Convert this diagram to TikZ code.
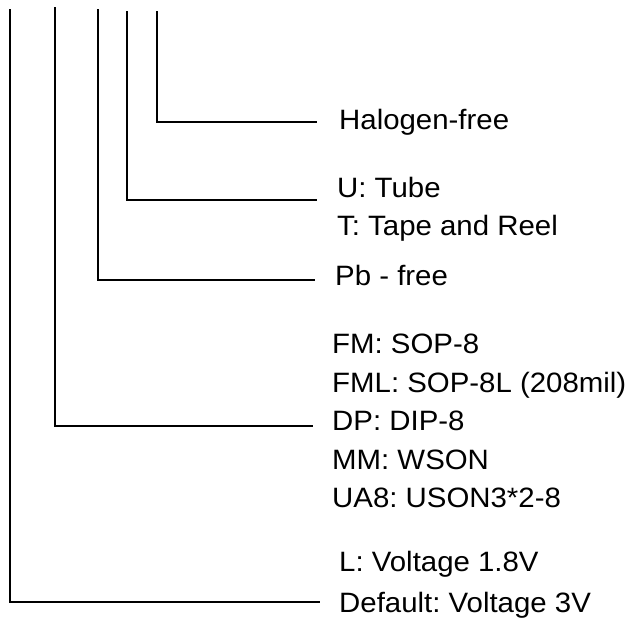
\documentclass[tikz,border=0pt]{standalone}
\usepackage{graphicx}
\usepackage{fontspec}
\setmainfont{Liberation Sans}
\frenchspacing
\newcommand{\widetxt}[1]{\scalebox{1.05}[1]{#1}}
\begin{document}
\begin{tikzpicture}[x=1pt,y=-1pt,
  lbl/.style={anchor=base west,inner sep=0pt,font=\fontsize{28}{38}\selectfont},
  leader/.style={line width=2pt,line cap=rect}]
\useasboundingbox (0,0) rectangle (627,633);
% labels
\node[lbl] (hal) at (339,129.5) {\widetxt{Halogen-free}};
\node[lbl] (tube) at (337,197) {\widetxt{U: Tube}};
\node[lbl] (tape) at (337,235) {\widetxt{T: Tape and Reel}};
\node[lbl] (pb) at (335,285) {\widetxt{Pb - free}};
\node[lbl] (fm) at (332,353.5) {\widetxt{FM: SOP-8}};
\node[lbl] (fml) at (332,392) {\widetxt{FML: SOP-8L (208mil)}};
\node[lbl] (dp) at (332,430.5) {\widetxt{DP: DIP-8}};
\node[lbl] (mm) at (332,469) {\widetxt{MM: WSON}};
\node[lbl] (ua) at (332,507.5) {\widetxt{UA8: USON3*2-8}};
\node[lbl] (lv) at (339,571) {\widetxt{L: Voltage 1.8V}};
\node[lbl] (def) at (339,612) {\widetxt{Default: Voltage 3V}};
% leader tops and ends
\coordinate (t1) at (10,10);   \coordinate (e1) at (319,602);
\coordinate (t2) at (55,8);    \coordinate (e2) at (312,426);
\coordinate (t3) at (98,10);   \coordinate (e3) at (314,280);
\coordinate (t4) at (127,12);  \coordinate (e4) at (316,200);
\coordinate (t5) at (157,12);  \coordinate (e5) at (316,122);
\draw[leader] (t1) |- (e1);
\draw[leader] (t2) |- (e2);
\draw[leader] (t3) |- (e3);
\draw[leader] (t4) |- (e4);
\draw[leader] (t5) |- (e5);
\end{tikzpicture}
\end{document}
